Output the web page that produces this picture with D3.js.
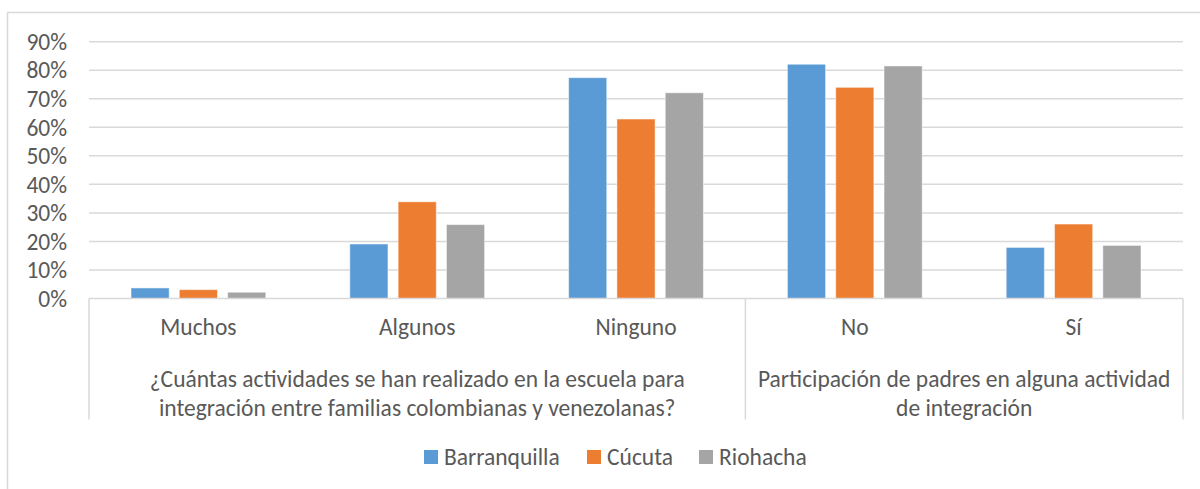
<!DOCTYPE html>
<html>
<head>
<meta charset="utf-8">
<script src="https://cdn.jsdelivr.net/npm/d3@7"></script>
<style>
  body { margin: 0; background: #fff; }
  text { font-family: Carlito, Lato, "Noto Sans", sans-serif; fill: #595959; }
</style>
</head>
<body>
<div id="chart"></div>
<script>
// data
var categories = ["Muchos", "Algunos", "Ninguno", "No", "Sí"];
var series = ["Barranquilla", "Cúcuta", "Riohacha"];
var barranquilla = [0.037, 0.191, 0.774, 0.821, 0.179];
var cucuta = [0.031, 0.339, 0.629, 0.740, 0.261];
var riohacha = [0.022, 0.259, 0.721, 0.815, 0.186];
var colors = ["#5B9BD5", "#ED7D31", "#A5A5A5"];
var yTicks = [0, 0.1, 0.2, 0.3, 0.4, 0.5, 0.6, 0.7, 0.8, 0.9];
var groups = [
    { lines: ["¿Cuántas actividades se han realizado en la escuela para",
              "integración entre familias colombianas y venezolanas?"], from: 0, to: 3 },
    { lines: ["Participación de padres en alguna actividad",
              "de integración"], from: 3, to: 5 }
];

var values = [barranquilla, cucuta, riohacha];
var data = categories.map(function(c, i) {
    return { cat: c, vals: series.map(function(s, j) { return { s: s, v: values[j][i], k: j }; }) };
});

var width_svg = 1200, height_svg = 489;
var margin = { left: 89, right: 17, top: 41.7, bottom: 190.5 };
var width = width_svg - margin.left - margin.right;
var height = height_svg - margin.top - margin.bottom;

var svg = d3.select("#chart")
    .append("svg")
    .attr("width", width_svg)
    .attr("height", height_svg);

// chart border (only top and left visible in the original crop)
svg.append("path")
    .attr("d", "M7.5,489 L7.5,12.5 L1200,12.5")
    .attr("fill", "none")
    .attr("stroke", "#D9D9D9")
    .attr("stroke-width", 1.5);

var g = svg.append("g")
    .attr("transform", "translate(" + margin.left + "," + margin.top + ")");

var x0 = d3.scaleBand().domain(categories).range([0, width]).padding(0);
var x1 = d3.scaleBand().domain(series)
    .range([42, x0.bandwidth() - 42])
    .paddingInner(0.21).paddingOuter(0);
var y = d3.scaleLinear().domain([0, 0.9]).range([height, 0]);

// gridlines
g.append("g")
    .selectAll("line")
    .data(yTicks.slice(1))
    .join("line")
    .attr("x1", 0)
    .attr("x2", width)
    .attr("y1", function(d) { return y(d); })
    .attr("y2", function(d) { return y(d); })
    .attr("stroke", "#D9D9D9")
    .attr("stroke-width", 1.5);

// y labels
g.append("g")
    .selectAll("text")
    .data(yTicks)
    .join("text")
    .attr("x", -22)
    .attr("y", function(d) { return y(d); })
    .attr("dy", "0.35em")
    .attr("text-anchor", "end")
    .style("font-size", "23.5px")
    .text(d3.format(".0%"));

// bars
g.append("g")
    .selectAll("g")
    .data(data)
    .join("g")
    .attr("transform", function(d) { return "translate(" + x0(d.cat) + ",0)"; })
    .selectAll("rect")
    .data(function(d) { return d.vals; })
    .join("rect")
    .attr("x", function(d) { return x1(d.s); })
    .attr("width", x1.bandwidth())
    .attr("y", function(d) { return y(d.v); })
    .attr("height", function(d) { return height - y(d.v); })
    .attr("fill", function(d) { return colors[d.k]; })
    .attr("stroke", "#fff")
    .attr("stroke-opacity", 0.5)
    .attr("stroke-width", 1);

// category axis box
var axisBottom = 121;
g.append("line")
    .attr("x1", 0).attr("x2", width)
    .attr("y1", height).attr("y2", height)
    .attr("stroke", "#D9D9D9").attr("stroke-width", 1.5);

var bounds = [0, 3, 5];
g.append("g")
    .selectAll("line")
    .data(bounds)
    .join("line")
    .attr("x1", function(d) { return d * x0.step(); })
    .attr("x2", function(d) { return d * x0.step(); })
    .attr("y1", height)
    .attr("y2", height + axisBottom)
    .attr("stroke", "#D9D9D9").attr("stroke-width", 1.5);

g.append("g")
    .selectAll("text")
    .data(categories)
    .join("text")
    .attr("x", function(d) { return x0(d) + x0.bandwidth() / 2; })
    .attr("y", height + 37)
    .attr("text-anchor", "middle")
    .style("font-size", "23.5px")
    .text(function(d) { return d; });

var grp = g.append("g")
    .selectAll("text")
    .data(groups)
    .join("text")
    .attr("x", function(d) { return (d.from + d.to) / 2 * x0.step(); })
    .attr("y", height + 89)
    .attr("text-anchor", "middle")
    .style("font-size", "23.5px");

grp.selectAll("tspan")
    .data(function(d) { return d.lines.map(function(l) { return { l: l, x: (d.from + d.to) / 2 * x0.step() }; }); })
    .join("tspan")
    .attr("x", function(d) { return d.x; })
    .attr("dy", function(d, i) { return i === 0 ? 0 : 28.5; })
    .text(function(d) { return d.l; });

// legend
var legendX = [424, 587, 699];
var legend = svg.append("g")
    .selectAll("g")
    .data(series)
    .join("g")
    .attr("transform", function(d, i) { return "translate(" + legendX[i] + ",457)"; });

legend.append("rect")
    .attr("x", 0).attr("y", -7)
    .attr("width", 14).attr("height", 14)
    .attr("fill", function(d, i) { return colors[i]; });

legend.append("text")
    .attr("x", 20)
    .attr("dy", "0.35em")
    .style("font-size", "23.5px")
    .text(function(d) { return d; });
</script>
</body>
</html>
